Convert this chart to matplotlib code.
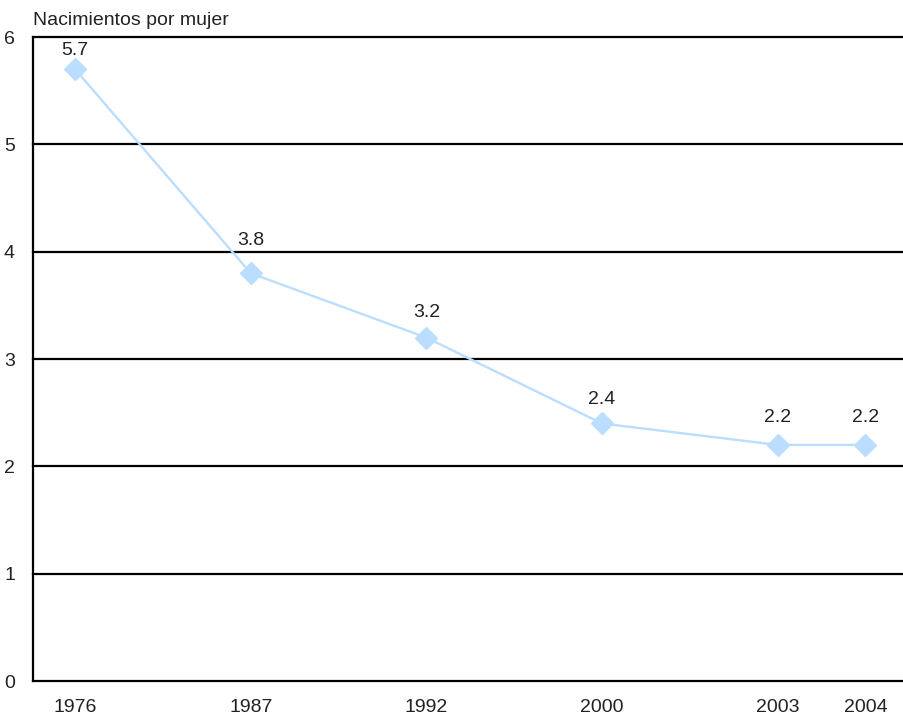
import matplotlib
matplotlib.use('Agg')
import matplotlib.pyplot as plt

plt.rcParams['font.family'] = ['Liberation Sans', 'DejaVu Sans']

years = ['1976', '1987', '1992', '2000', '2003', '2004']
x_pos = [0, 1, 2, 3, 4, 4.5]
births = [5.7, 3.8, 3.2, 2.4, 2.2, 2.2]
y_ticks = [0, 1, 2, 3, 4, 5, 6]

# label distance above each point, in pixels (labels dodge the gridlines)
label_lift_px = [19, 33, 25, 24, 27, 27]

fig = plt.figure(figsize=(9.04, 7.17), dpi=100)
ax = fig.add_axes([0.0365, 0.0502, 0.9635, 0.898])

for y in y_ticks:
    ax.axhline(y, color='black', linewidth=1.6, zorder=1, clip_on=False)

ax.plot(x_pos, births, color='#bbddff', linewidth=1.7, marker='D',
        markersize=11, markeredgecolor='#bbddff', zorder=3)

for x, v, lift in zip(x_pos, births, label_lift_px):
    ax.annotate(f'{v}', (x, v), xytext=(0, lift * 0.72), textcoords='offset points',
                ha='center', va='center', fontsize=14, color='#222222')

ax.set_xlim(-0.24, 4.72)
ax.set_ylim(0, 6)
ax.set_xticks(x_pos)
ax.set_xticklabels(years)
ax.set_yticks(y_ticks)
ax.tick_params(length=0, labelsize=14, colors='#222222')
ax.tick_params(axis='x', pad=13)
ax.tick_params(axis='y', pad=13)
for s in ['top', 'right', 'bottom']:
    ax.spines[s].set_visible(False)
ax.spines['left'].set_linewidth(1.6)
ax.spines['left'].set_color('black')

fig.text(0.0365, 0.972, 'Nacimientos por mujer', ha='left', va='center',
         fontsize=14, color='#222222')

plt.savefig('out.png', dpi=100)
plt.close()
